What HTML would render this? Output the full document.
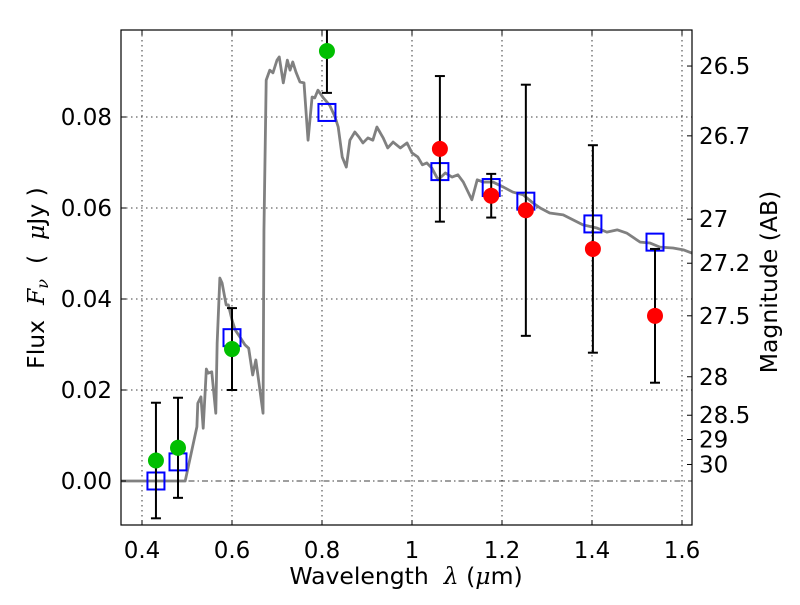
<!DOCTYPE html>
<html><head><meta charset="utf-8"><style>
body{margin:0;background:#fff}
svg text{font-family:"DejaVu Sans","Liberation Sans",sans-serif;fill:#000}
</style></head><body>
<svg id="chart" width="800" height="600" xmlns="http://www.w3.org/2000/svg">
<rect x="0" y="0" width="800" height="600" fill="#fff"/>
<g id="grid"></g>
<g id="sed"></g>
<g id="marks"></g>
<rect x="121" y="30" width="571" height="495" fill="none" stroke="#000" stroke-width="1.2"/>
<g id="axes"></g>
<text x="406" y="584" font-size="23.5" text-anchor="middle">Wavelength&#160;&#160;<tspan font-style="italic" font-family="DejaVu Serif,serif">λ</tspan>&#160;(<tspan font-style="italic" font-family="DejaVu Serif,serif">μ</tspan>m)</text>
<text transform="translate(44,278) rotate(-90)" font-size="23.5" text-anchor="middle">Flux&#160;&#160;<tspan font-style="italic" font-family="DejaVu Serif,serif">F<tspan font-size="16" dy="4">ν</tspan></tspan><tspan dy="-4">&#160;&#160;(&#160;&#160;</tspan><tspan font-style="italic" font-family="DejaVu Serif,serif">μ</tspan>Jy&#160;)</text>
<text transform="translate(777,282) rotate(-90)" font-size="23.5" text-anchor="middle">Magnitude (AB)</text>
</svg>
<script>
const sedLambda=[0.351,0.496,0.522,0.524,0.531,0.536,0.543,0.547,0.555,0.564,0.567,0.573,0.578,0.587,0.592,0.600,0.607,0.618,0.629,0.637,0.646,0.653,0.660,0.669,0.671,0.676,0.684,0.691,0.700,0.705,0.714,0.723,0.729,0.735,0.742,0.751,0.760,0.769,0.778,0.784,0.791,0.803,0.817,0.829,0.836,0.845,0.854,0.862,0.873,0.882,0.891,0.902,0.913,0.922,0.936,0.946,0.958,0.974,0.989,1.000,1.013,1.023,1.033,1.044,1.058,1.074,1.089,1.102,1.114,1.133,1.145,1.158,1.180,1.203,1.224,1.247,1.269,1.285,1.306,1.336,1.358,1.380,1.411,1.433,1.456,1.477,1.507,1.529,1.551,1.580,1.603,1.622];
const sedFlux=[0,0,0.0119,0.0171,0.0185,0.0116,0.0246,0.0237,0.0240,0.0149,0.0303,0.0446,0.0435,0.0387,0.0387,0.0354,0.0332,0.0316,0.0299,0.0292,0.0233,0.0266,0.0215,0.0149,0.0552,0.0881,0.0903,0.0897,0.0925,0.0932,0.0875,0.0925,0.0903,0.0921,0.0899,0.0877,0.0875,0.0749,0.0844,0.0842,0.0859,0.0842,0.0826,0.0800,0.0778,0.0712,0.0690,0.0749,0.0767,0.0756,0.0743,0.0754,0.0749,0.0778,0.0754,0.0732,0.0745,0.0732,0.0743,0.0721,0.0712,0.0695,0.0699,0.0688,0.0662,0.0677,0.0668,0.0673,0.0657,0.0618,0.0662,0.0657,0.0657,0.0646,0.0635,0.0629,0.0611,0.0600,0.0589,0.0585,0.0574,0.0563,0.0556,0.0547,0.0552,0.0545,0.0525,0.0523,0.0514,0.0512,0.0508,0.0501];
const greenLambda=[0.431,0.48,0.600,0.811];
const greenFlux=[0.0045,0.0073,0.029,0.0945];
const greenErr=[0.0127,0.011,0.009,0.0092];
const redLambda=[1.062,1.176,1.253,1.402,1.540];
const redFlux=[0.073,0.0627,0.0595,0.051,0.0363];
const redErr=[0.016,0.0048,0.0276,0.0228,0.0147];
const modelLambda=[0.431,0.48,0.600,0.811,1.062,1.176,1.253,1.402,1.540];
const modelFlux=[0.0,0.0042,0.0315,0.081,0.068,0.0645,0.0615,0.0565,0.0525];
const xTicks=[0.4,0.6,0.8,1.0,1.2,1.4,1.6];
const xTickLabels=["0.4","0.6","0.8","1","1.2","1.4","1.6"];
const yTicks=[0,0.02,0.04,0.06,0.08];
const yTickLabels=["0.00","0.02","0.04","0.06","0.08"];
const magTicks=[26.5,26.7,27,27.2,27.5,28,28.5,29,30];
const magTickLabels=["26.5","26.7","27","27.2","27.5","28","28.5","29","30"];

const NS="http://www.w3.org/2000/svg";
const X=l=>142+(l-0.4)*450;
const Y=f=>481-f*4550;
const magToFlux=m=>Math.pow(10,(23.9-m)/2.5);
const L=121,R=692,T=30,B=525;
function mk(tag,attrs,parent){const e=document.createElementNS(NS,tag);for(const k in attrs)e.setAttribute(k,attrs[k]);parent.appendChild(e);return e;}
const grid=document.getElementById('grid'),axes=document.getElementById('axes'),sed=document.getElementById('sed'),marks=document.getElementById('marks');
xTicks.forEach((t,i)=>{
 const g=mk('line',{x1:X(t),x2:X(t),y1:T,y2:B,stroke:'#000','stroke-width':0.8,'stroke-dasharray':'1.5,3.5'},grid);
 
 
 const a=mk('line',{x1:X(t),x2:X(t),y1:B,y2:B-5,stroke:'#000','stroke-width':1},axes);
 
 
 mk('line',{x1:X(t),x2:X(t),y1:T,y2:T+5,stroke:'#000','stroke-width':1},axes);
 const tx=mk('text',{x:X(t),y:B+33,'font-size':23,'text-anchor':'middle'},axes);
 tx.textContent=xTickLabels[i];
 
 
});
yTicks.forEach((t,i)=>{
 const g=mk('line',{x1:L,x2:R,y1:Y(t),y2:Y(t),stroke:'#000','stroke-width':0.8,'stroke-dasharray':t===0?'6,3,1.5,3':'1.5,3.5'},grid);
 
 
 const a=mk('line',{x1:L,x2:L+5,y1:Y(t),y2:Y(t),stroke:'#000','stroke-width':1},axes);
 
 
 const tx=mk('text',{x:L-9,y:Y(t)+8,'font-size':23,'text-anchor':'end'},axes);
 tx.textContent=yTickLabels[i];
 
 
});
magTicks.forEach((m,i)=>{
 const y=Y(magToFlux(m));
 const a=mk('line',{x1:R,x2:R-5,y1:y,y2:y,stroke:'#000','stroke-width':1},axes);
 
 
 const tx=mk('text',{x:R+7,y:y+8,'font-size':23},axes);
 tx.textContent=magTickLabels[i];
 
 
});
const clip=mk('clipPath',{id:'pc'},document.getElementById('chart'));
mk('rect',{x:L,y:T,width:R-L,height:B-T},clip);
sed.setAttribute('clip-path','url(#pc)');
marks.setAttribute('clip-path','url(#pc)');
const p=mk('polyline',{points:sedLambda.map((l,i)=>X(l)+','+Y(sedFlux[i])).join(' '),fill:'none',stroke:'#808080','stroke-width':2.8,'stroke-linejoin':'round'},sed);


function errbars(ls,fs,es){ls.forEach((l,i)=>{
 const x=X(l),y1=Y(fs[i]+es[i]),y2=Y(fs[i]-es[i]);
 const e=mk('line',{x1:x,x2:x,y1:y1,y2:y2,stroke:'#000','stroke-width':2},marks);
 
 
 mk('line',{x1:x-5,x2:x+5,y1:y1,y2:y1,stroke:'#000','stroke-width':2},marks);
 mk('line',{x1:x-5,x2:x+5,y1:y2,y2:y2,stroke:'#000','stroke-width':2},marks);
});}
modelLambda.forEach((l,i)=>{
 const s=mk('rect',{x:X(l)-8.5,y:Y(modelFlux[i])-8.5,width:17,height:17,fill:'none',stroke:'#0000ff','stroke-width':2},marks);
 
 
});
errbars(greenLambda,greenFlux,greenErr);
errbars(redLambda,redFlux,redErr);
greenLambda.forEach((l,i)=>{
 const c=mk('circle',{cx:X(l),cy:Y(greenFlux[i]),r:8,fill:'#00bf00'},marks);
 
 
});
redLambda.forEach((l,i)=>{
 const c=mk('circle',{cx:X(l),cy:Y(redFlux[i]),r:8,fill:'#ff0000'},marks);
 
 
});
</script>
</body></html>
